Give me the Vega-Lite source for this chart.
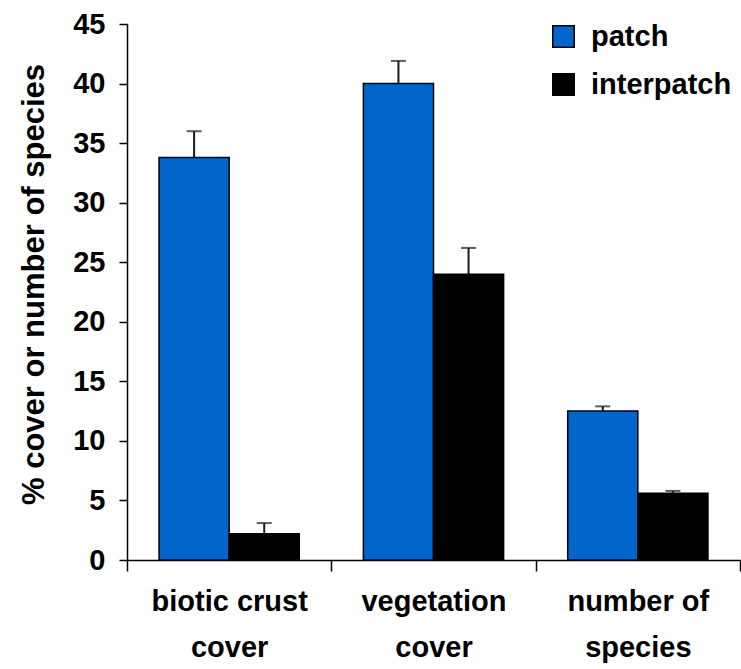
{
  "$schema": "https://vega.github.io/schema/vega-lite/v6.json",
  "width": 613,
  "height": 536,
  "autosize": {"type": "none"},
  "padding": {"left": 127, "top": 24, "right": 1, "bottom": 109},
  "background": "white",
  "config": {
    "view": {"stroke": null},
    "font": "Liberation Sans",
    "axis": {
      "grid": false,
      "domainColor": "black",
      "domainWidth": 1.5,
      "tickColor": "black",
      "tickWidth": 1.5,
      "labelColor": "black",
      "labelFont": "Liberation Sans",
      "labelFontSize": 29,
      "labelFontWeight": "bold",
      "titleColor": "black",
      "titleFont": "Liberation Sans",
      "titleFontWeight": "bold"
    }
  },
  "data": {
    "values": [
      {"measure": "biotic crust cover", "site": "patch", "mean": 33.8, "upper": 36.0},
      {"measure": "biotic crust cover", "site": "interpatch", "mean": 2.2, "upper": 3.1},
      {"measure": "vegetation cover", "site": "patch", "mean": 40.0, "upper": 41.9},
      {"measure": "vegetation cover", "site": "interpatch", "mean": 24.0, "upper": 26.2},
      {"measure": "number of species", "site": "patch", "mean": 12.5, "upper": 12.9},
      {"measure": "number of species", "site": "interpatch", "mean": 5.6, "upper": 5.8}
    ]
  },
  "encoding": {
    "x": {
      "field": "measure",
      "type": "nominal",
      "sort": ["biotic crust cover", "vegetation cover", "number of species"],
      "scale": {"paddingInner": 0, "paddingOuter": 0},
      "axis": {
        "title": null,
        "labelAngle": 0,
        "tickBand": "extent",
        "tickSize": 11,
        "labelPadding": 16,
        "labelLineHeight": 46,
        "labelExpr": "datum.value == 'biotic crust cover' ? ['biotic crust', 'cover'] : datum.value == 'vegetation cover' ? ['vegetation', 'cover'] : datum.value == 'number of species' ? ['number of', 'species'] : ''"
      }
    },
    "xOffset": {
      "field": "site",
      "type": "nominal",
      "sort": ["patch", "interpatch"],
      "scale": {"paddingInner": 0, "paddingOuter": 0.457}
    }
  },
  "layer": [
    {
      "mark": {"type": "bar", "stroke": "black", "strokeWidth": 1.5},
      "encoding": {
        "y": {
          "field": "mean",
          "type": "quantitative",
          "scale": {"domain": [0, 45], "nice": false},
          "axis": {
            "title": "% cover or number of species",
            "titleFontSize": 31,
            "titlePadding": 22,
            "titleY": 260,
            "values": [0, 5, 10, 15, 20, 25, 30, 35, 40, 45],
            "tickSize": 8,
            "labelPadding": 14
          }
        },
        "color": {
          "field": "site",
          "type": "nominal",
          "scale": {"domain": ["patch", "interpatch"], "range": ["#0066CC", "#000000"]},
          "legend": {
            "title": null,
            "orient": "none",
            "legendX": 422,
            "legendY": -2,
            "padding": 0,
            "symbolType": "square",
            "symbolSize": 462,
            "symbolStrokeColor": "black",
            "symbolStrokeWidth": 1.5,
            "labelFontSize": 29,
            "labelFontWeight": "bold",
            "labelColor": "black",
            "labelOffset": 13,
            "rowPadding": 18
          }
        }
      }
    },
    {
      "mark": {"type": "rule", "color": "#1a1a1a", "strokeWidth": 2},
      "encoding": {
        "y": {"field": "mean", "type": "quantitative"},
        "y2": {"field": "upper"}
      }
    },
    {
      "mark": {"type": "tick", "orient": "horizontal", "color": "#1a1a1a", "thickness": 2, "size": 15},
      "encoding": {
        "y": {"field": "upper", "type": "quantitative"}
      }
    }
  ]
}
